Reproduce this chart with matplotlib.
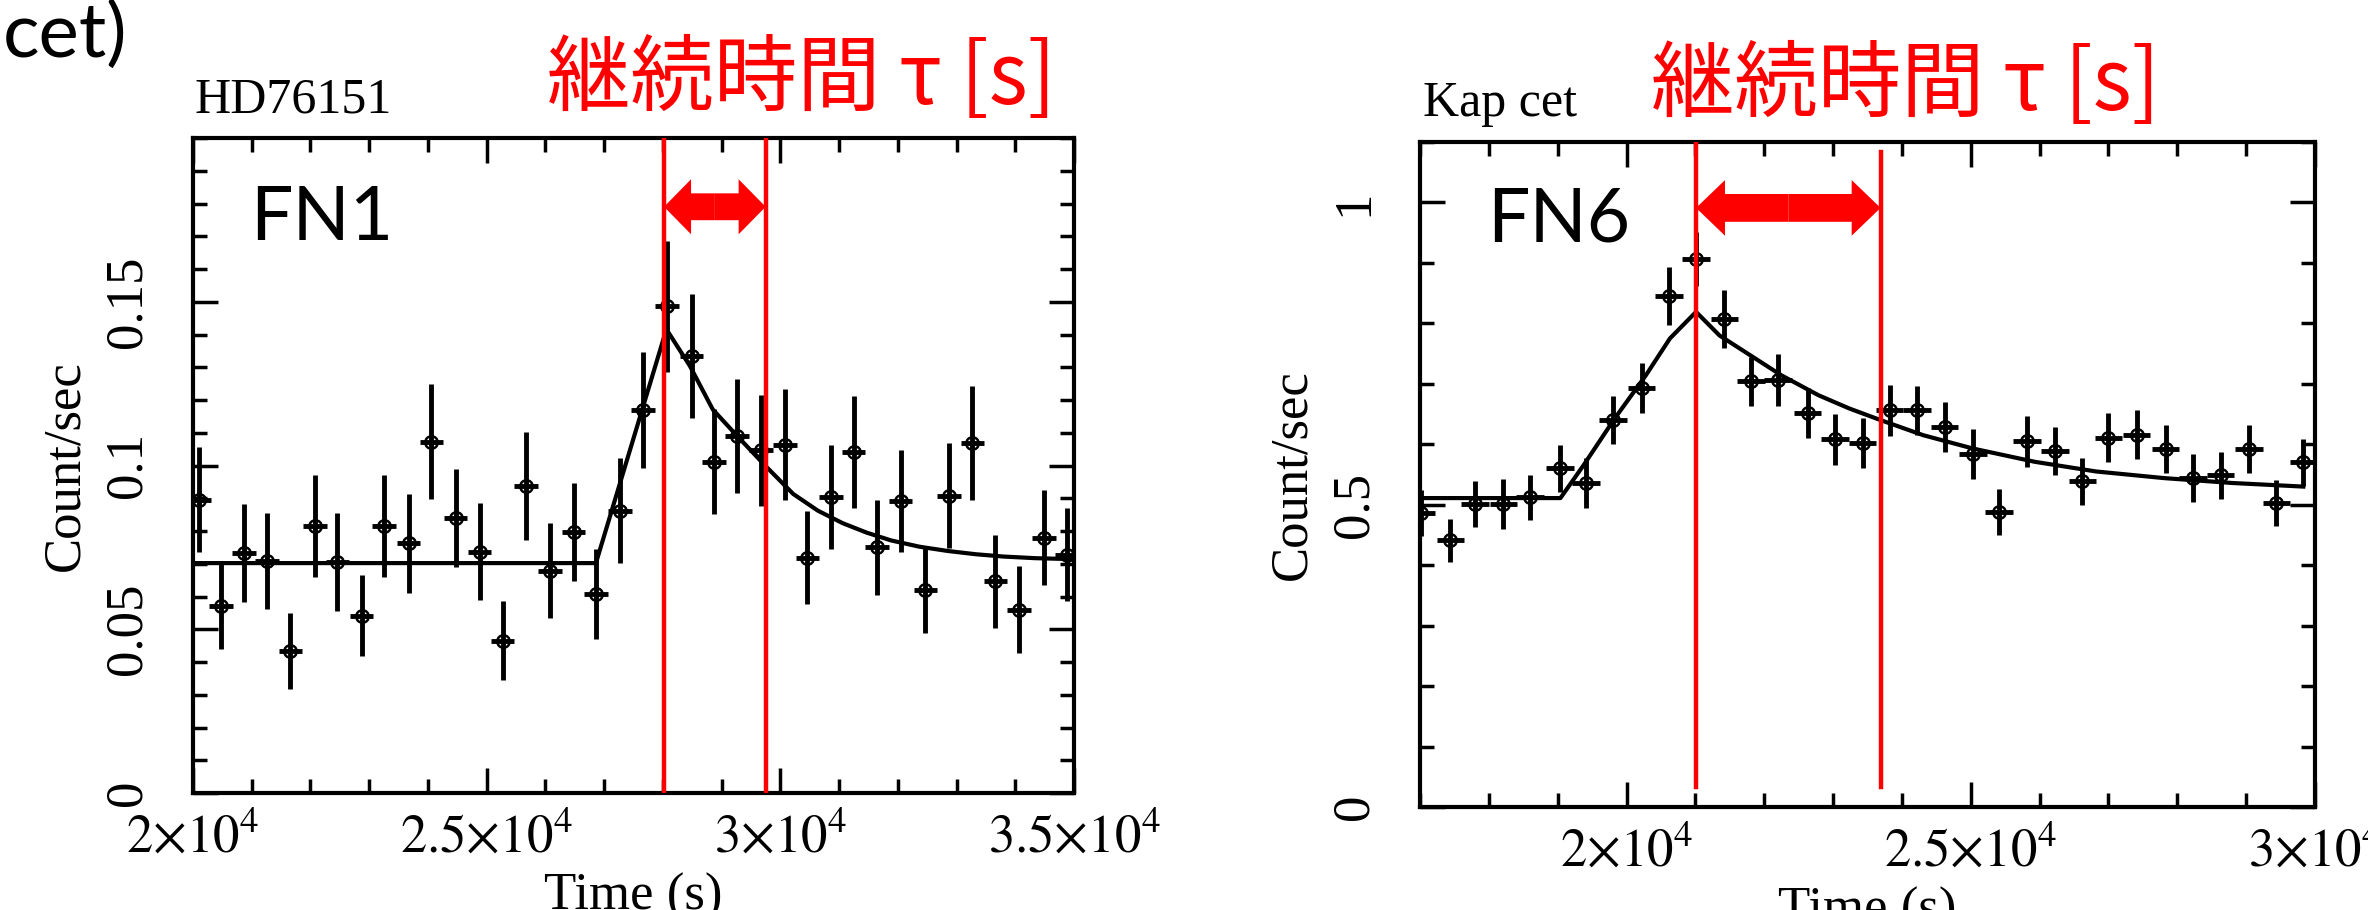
import matplotlib
matplotlib.use('Agg')
import matplotlib.pyplot as plt
from matplotlib.patches import FancyArrow
from matplotlib.ticker import MultipleLocator

plt.rcParams['mathtext.fontset'] = 'stix'
plt.rcParams['font.family'] = 'Liberation Serif'

# HD76151 (FN1) light curve
t1 = [20100, 20480, 20870, 21260, 21660, 22080, 22460, 22870, 23250, 23670,
      24060, 24470, 24880, 25270, 25670, 26080, 26480, 26860, 27270, 27660,
      28070, 28490, 28870, 29260, 29670, 30080, 30460, 30860, 31250, 31650,
      32050, 32470, 32870, 33270, 33660, 34060, 34490, 34880]
c1 = [0.0895, 0.0571, 0.0732, 0.0709, 0.0434, 0.0816, 0.0706, 0.0541, 0.0816, 0.0762,
      0.1073, 0.0839, 0.0736, 0.0465, 0.0938, 0.0679, 0.0798, 0.0608, 0.0862, 0.1170,
      0.1486, 0.1335, 0.1011, 0.1090, 0.1046, 0.1064, 0.0718, 0.0904, 0.1041, 0.0750,
      0.0892, 0.0621, 0.0908, 0.1069, 0.0647, 0.0559, 0.0780, 0.0727]
e1 = [0.016, 0.013, 0.015, 0.0146, 0.0115, 0.0155, 0.015, 0.0124, 0.0155, 0.015,
      0.0175, 0.015, 0.0148, 0.012, 0.0164, 0.0146, 0.015, 0.0137, 0.016, 0.0177,
      0.020, 0.019, 0.016, 0.0173, 0.017, 0.017, 0.0142, 0.016, 0.0171, 0.0146,
      0.0155, 0.0133, 0.016, 0.0173, 0.0142, 0.0133, 0.0146, 0.0142]
m1_t = [20000, 26860, 28060, 28460, 28850, 29240, 29740, 30220, 30640, 31060,
        31470, 31890, 32370, 32850, 33330, 33800, 34340, 35000]
m1_c = [0.0702, 0.0702, 0.1416, 0.1304, 0.1171, 0.1095, 0.1000, 0.0913, 0.0862, 0.0824,
        0.0795, 0.0771, 0.0752, 0.0739, 0.0729, 0.0722, 0.0717, 0.0714]
tau1 = [28020, 29750]

# Kap cet (FN6) light curve
t2 = [17020, 17440, 17800, 18210, 18600, 19030, 19410, 19800, 20220, 20620,
      21010, 21420, 21810, 22200, 22630, 23030, 23430, 23820, 24220, 24620,
      25030, 25410, 25820, 26220, 26620, 27000, 27410, 27830, 28230, 28630,
      29040, 29440, 29830]
c2 = [0.487, 0.441, 0.501, 0.501, 0.512, 0.560, 0.536, 0.640, 0.693, 0.845,
      0.906, 0.808, 0.704, 0.707, 0.652, 0.608, 0.602, 0.656, 0.656, 0.629,
      0.584, 0.488, 0.605, 0.589, 0.539, 0.611, 0.616, 0.592, 0.544, 0.549,
      0.592, 0.503, 0.570]
e2 = [0.038, 0.036, 0.038, 0.041, 0.037, 0.039, 0.041, 0.040, 0.042, 0.048,
      0.045, 0.048, 0.041, 0.043, 0.041, 0.042, 0.041, 0.042, 0.041, 0.041,
      0.041, 0.038, 0.042, 0.039, 0.039, 0.041, 0.041, 0.040, 0.040, 0.039,
      0.040, 0.038, 0.039]
m2_t = [17000, 19040, 19380, 19830, 20280, 20630, 21010, 21350, 21800,
        22250, 22790, 23240, 23690, 24310, 25030, 25930, 26820, 27810, 28790, 29830]
m2_c = [0.511, 0.511, 0.566, 0.643, 0.714, 0.775, 0.819, 0.780, 0.747,
        0.714, 0.681, 0.659, 0.640, 0.615, 0.593, 0.571, 0.555, 0.544, 0.536, 0.530]
tau2 = [21010, 23690]

xbin = 200  # half width of the time bins

W, H = 2368, 910
fig = plt.figure(figsize=(W / 100, H / 100), dpi=100)


def box(l, t, r, b):
    return [l / W, 1 - b / H, (r - l) / W, (b - t) / H]


def px(x, y):
    return x / W, 1 - y / H


def panel(ax, t, c, e, mt, mc, xlim, ylim, xt, xl, yt, yl, yminor):
    ax.plot(mt, mc, color='k', lw=3, zorder=2)
    ax.errorbar(t, c, xerr=xbin, yerr=e, fmt='o', ms=9, mfc='none', mec='k', mew=1.8,
                ecolor='k', elinewidth=3.5, capsize=0, zorder=3)
    ax.set_xlim(*xlim)
    ax.set_ylim(*ylim)
    ax.set_xticks(xt, xl, fontsize=38)
    ax.xaxis.set_minor_locator(MultipleLocator(1000))
    ax.set_yticks(yt, yl, fontsize=38, rotation=90, va='center')
    ax.yaxis.set_minor_locator(MultipleLocator(yminor))
    ax.tick_params(which='both', direction='in', top=True, right=True, width=2.5, color='k')
    ax.tick_params(which='major', length=18)
    ax.tick_params(which='minor', length=10)
    ax.tick_params(axis='x', pad=14)
    ax.tick_params(axis='y', pad=30)
    for s in ax.spines.values():
        s.set_linewidth(3)
    ax.set_xlabel('Time (s)', fontsize=38, labelpad=8)
    ax.set_ylabel('Count/sec', fontsize=38, labelpad=10)


def duration(ax, tau, y, body, head, hlen, lo, hi):
    for x, top in zip(tau, hi):
        ax.axvline(x, ymin=lo, ymax=top, color='#ff0000', lw=3.2, zorder=5)
    mid = (tau[0] + tau[1]) / 2
    for x_end in tau:
        ax.add_patch(FancyArrow(mid, y, x_end - mid, 0, width=body, head_width=head,
                                head_length=hlen, length_includes_head=True,
                                color='#ff0000', lw=0, zorder=6))


ax1 = fig.add_axes(box(193, 138, 1074, 793))
panel(ax1, t1, c1, e1, m1_t, m1_c, (20000, 35000), (0, 0.2),
      [20000, 25000, 30000, 35000],
      [r'$2{\times}10^4$', r'$2.5{\times}10^4$', r'$3{\times}10^4$', r'$3.5{\times}10^4$'],
      [0, 0.05, 0.1, 0.15], ['0', '0.05', '0.1', '0.15'], 0.01)
duration(ax1, tau1, 0.179, 0.0082, 0.0168, 460, 0.0, (1.0, 1.0))

ax2 = fig.add_axes(box(1420, 142, 2315, 807))
panel(ax2, t2, c2, e2, m2_t, m2_c, (17000, 30000), (0, 1.1),
      [20000, 25000, 30000],
      [r'$2{\times}10^4$', r'$2.5{\times}10^4$', r'$3{\times}10^4$'],
      [0, 0.5, 1], ['0', '0.5', '1'], 0.1)
duration(ax2, tau2, 0.991, 0.046, 0.092, 420, 0.03, (1.0, 0.985))

# annotations
sans = ['Lato', 'DejaVu Sans']
jp = ['Noto Sans CJK JP', 'DejaVu Sans']
fig.text(*px(3, 57), 'cet)', fontsize=55, family=sans, va='baseline', ha='left')
fig.text(*px(195, 100), 'HD76151', fontsize=36, va='center', ha='left')
fig.text(*px(1423, 104), 'Kap cet', fontsize=36, va='center', ha='left')
fig.text(*px(547, 80), '継続時間 τ [s]', fontsize=60, family=jp, color='#ff0000',
         va='center', ha='left')
fig.text(*px(1651, 86), '継続時間 τ [s]', fontsize=60, family=jp, color='#ff0000',
         va='center', ha='left')
fig.text(*px(250, 219), 'FN1', fontsize=54, family=sans, va='center', ha='left')
fig.text(*px(1487, 220), 'FN6', fontsize=54, family=sans, va='center', ha='left')

fig.savefig('out.png', dpi=100)
